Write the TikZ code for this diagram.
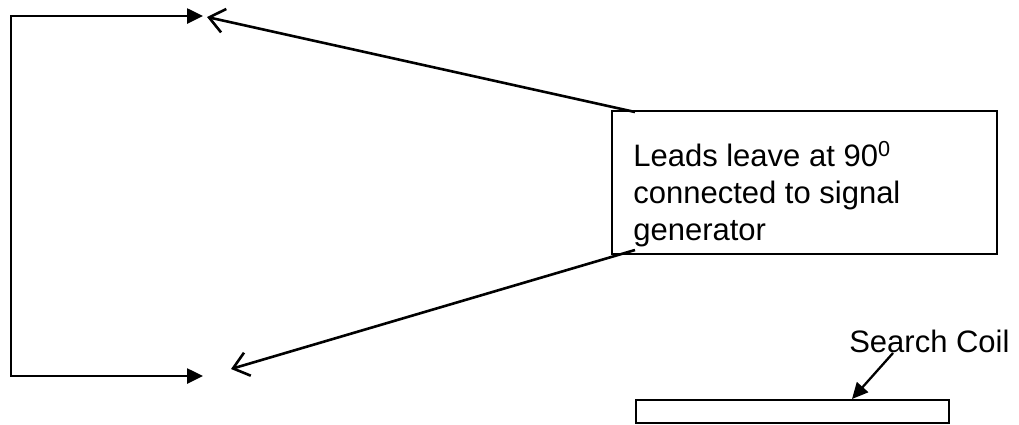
\documentclass[tikz,border=0pt]{standalone}
\usepackage{fontspec}
\setmainfont{Liberation Sans}
\usetikzlibrary{arrows.meta}
\begin{document}
\begin{tikzpicture}[x=1pt,y=-1pt,line width=2.6pt,font=\fontsize{31}{37}\selectfont,
  feed/.style={-{Triangle[length=16pt,width=15pt]}},
  lead/.style={-{Straight Barb[length=15pt,width=24pt,line width=2.6pt]}},
  coil/.style={draw,line width=2pt,minimum width=313pt,minimum height=23pt,inner sep=0pt}]
\useasboundingbox(0,0)rectangle(1019,424);
% loop from the generator
\coordinate(topend)at(203,16);\coordinate(botend)at(203,376);
\coordinate(corner1)at(11,16);\coordinate(corner2)at(11,376);
\draw[feed](corner2)--(corner1)--(topend);
\draw[feed](corner1)--(corner2)--(botend);
% label box and its leads
\node[draw,line width=2pt,anchor=north west,minimum width=385pt,minimum height=143pt,inner sep=0pt](box)at(611,110){};
\node[anchor=base west,align=left,inner sep=0pt](leadstext)at(632,240){Leads leave at 90\textsuperscript{0}\\connected to signal\\generator};
\coordinate(leadA)at(635,112);\coordinate(leadB)at(635,250);
\coordinate(tipA)at(207,17);\coordinate(tipB)at(231,369);
\draw[lead](leadA)--(tipA);
\draw[lead](leadB)--(tipB);
% search coil
\node[coil,anchor=north west](coilbar)at(635,399){};
\node[anchor=base west,inner sep=0pt](coillabel)at(848,352){Search Coil};
\draw[line width=2.3pt,-{Triangle[length=16pt,width=15pt]}](893,353)--(coilbar.north-|852,0);
\end{tikzpicture}
\end{document}
